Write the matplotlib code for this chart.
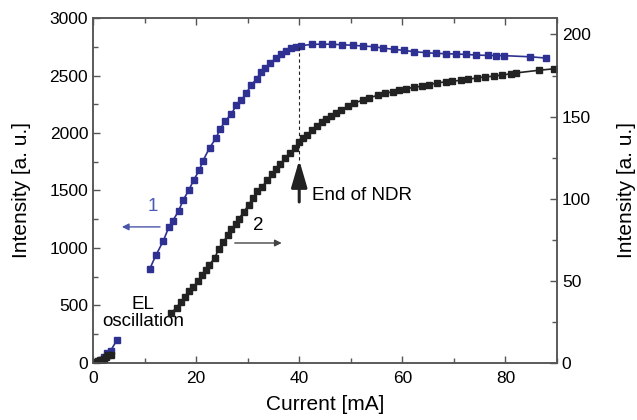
import matplotlib

matplotlib.use("Agg")
import matplotlib.pyplot as plt
from matplotlib.ticker import MultipleLocator

plt.rcParams["font.family"] = ["Liberation Sans", "DejaVu Sans"]

# curve 1 (left axis), low-current part and main part
blue_low_x = [1.0, 1.6, 2.2, 2.8, 3.4, 4.6]
blue_low_y = [5, 25, 55, 90, 105, 195]
blue_x = [11.0, 12.2, 13.6, 14.7, 15.5, 16.6, 17.5, 18.6, 19.5, 20.6, 21.3, 22.6,
          23.9, 24.6, 25.7, 26.8, 27.8, 28.8, 29.7, 30.7, 31.8, 32.6, 33.4, 34.4,
          35.4, 36.5, 37.5, 38.4, 39.4, 40.4, 42.5, 44.4, 46.3, 48.3, 50.5, 52.3,
          54.5, 56.3, 58.4, 60.4, 62.2, 64.5, 66.5, 68.5, 70.4, 72.3, 74.3, 76.6,
          78.2, 79.7, 84.8, 87.9]
blue_y = [817, 936, 1058, 1180, 1238, 1322, 1417, 1504, 1588, 1675, 1756, 1870,
          1959, 2031, 2107, 2162, 2243, 2287, 2345, 2417, 2474, 2533, 2562, 2605,
          2649, 2687, 2716, 2736, 2751, 2760, 2771, 2773, 2772, 2768, 2763, 2757,
          2751, 2738, 2728, 2718, 2708, 2699, 2693, 2690, 2687, 2684, 2678, 2675,
          2674, 2673, 2663, 2652]

# curve 2 (right axis)
black_low_x = [0.6, 1.0, 1.4, 1.8, 2.2, 2.6, 3.0, 3.4]
black_low_y = [0.5, 1.0, 1.5, 2.0, 2.5, 3.5, 4.5, 5.0]
black_x = [15.2, 16.2, 17.0, 17.8, 18.6, 19.4, 20.4, 21.2, 22.0, 22.5, 23.6, 24.4,
           25.2, 26.2, 26.8, 27.7, 28.3, 29.3, 30.2, 31.0, 31.9, 32.8, 33.8, 34.8,
           35.5, 36.3, 37.3, 38.2, 39.2, 40.0, 40.8, 41.6, 42.5, 43.4, 44.4, 45.2,
           46.2, 47.1, 48.1, 49.5, 50.7, 52.3, 53.6, 55.2, 56.7, 58.1, 59.4, 60.7,
           62.3, 63.9, 65.2, 66.8, 68.4, 69.7, 71.3, 72.8, 74.5, 76.1, 77.8, 79.4,
           81.0, 82.1, 86.5, 89.4]
black_y = [30.3, 33.7, 37.0, 40.4, 43.9, 46.1, 50.0, 53.7, 56.7, 59.6, 63.8, 69.5,
           73.4, 77.9, 81.7, 84.3, 87.8, 92.1, 96.3, 100.4, 104.5, 107.1, 111.4, 115.0,
           118.1, 121.1, 124.6, 127.6, 130.9, 134.3, 137.0, 139.0, 141.7, 144.1, 146.8, 148.6,
           150.6, 152.3, 154.3, 156.3, 158.4, 159.9, 161.4, 163.0, 164.2, 165.1, 165.9, 166.9,
           167.9, 168.5, 169.5, 170.5, 171.2, 171.5, 172.1, 172.7, 173.6, 174.2, 174.6, 175.4,
           176.0, 176.6, 178.2, 179.1]

ndr_current = 40
blue = "#2e3192"
dark = "#222222"
spine = "#555555"

fig = plt.figure(figsize=(6.37, 4.2), dpi=100)
ax = fig.add_axes([0.146, 0.136, 0.7284, 0.821])
ax2 = ax.twinx()

for a in (ax, ax2):
    for s in a.spines.values():
        s.set_color(spine)
        s.set_linewidth(1.1)

ax.plot(blue_low_x, blue_low_y, "-s", color=blue, ms=3.8, lw=1.2)
ax.plot(blue_x, blue_y, "-s", color=blue, ms=3.8, lw=1.2)
ax2.plot(black_low_x, black_low_y, "-s", color=dark, ms=3.8, lw=1.2)
ax2.plot(black_x, black_y, "-s", color=dark, ms=3.8, lw=1.2)

ax.set_xlim(0, 90)
ax.set_ylim(0, 3000)
ax2.set_ylim(0, 210)

ax.xaxis.set_major_locator(MultipleLocator(20))
ax.xaxis.set_minor_locator(MultipleLocator(10))
ax.yaxis.set_major_locator(MultipleLocator(500))
ax.yaxis.set_minor_locator(MultipleLocator(250))
ax2.yaxis.set_major_locator(MultipleLocator(50))
ax2.yaxis.set_minor_locator(MultipleLocator(25))

ax.tick_params(axis="x", which="both", direction="in", top=True, color=spine,
               labelsize=12.5, pad=6)
ax.tick_params(axis="y", which="both", direction="in", color=spine, labelsize=12.5)
ax2.tick_params(axis="y", which="both", direction="in", color=spine, labelsize=12.5)
for a in (ax, ax2):
    a.tick_params(which="major", length=5, width=1)
    a.tick_params(which="minor", length=3.5, width=1)

ax.set_xlabel("Current [mA]", fontsize=15, labelpad=6)
ax.set_ylabel("Intensity [a. u.]", fontsize=15, labelpad=13)
ax2.set_ylabel("Intensity [a. u.]", fontsize=15, labelpad=18.5)

# end of NDR marker
ax.plot([ndr_current, ndr_current], [1765, 2765], color=dark, lw=0.8,
        dashes=(3, 2.5))
ax.annotate("", xy=(ndr_current, 1765), xytext=(ndr_current, 1400),
            arrowprops=dict(arrowstyle="-|>,head_length=0.75,head_width=0.22",
                            mutation_scale=22, lw=2.2, color=dark,
                            shrinkA=0, shrinkB=0))
ax.text(42.4, 1452, "End of NDR", fontsize=13.5, ha="left", va="center")

# series arrows
ax.annotate("", xy=(5.6, 1183), xytext=(13.0, 1183),
            arrowprops=dict(arrowstyle="-|>", mutation_scale=10, lw=1,
                            color="#4a55a8", shrinkA=0, shrinkB=0))
ax.text(11.6, 1357, "1", fontsize=13.5, color="#4a5cb5", ha="center", va="center")
ax.annotate("", xy=(36.6, 1043), xytext=(27.5, 1043),
            arrowprops=dict(arrowstyle="-|>", mutation_scale=10, lw=1,
                            color="#444444", shrinkA=0, shrinkB=0))
ax.text(32.1, 1191, "2", fontsize=13.5, ha="center", va="center")

ax.text(9.7, 435, "EL\noscillation", fontsize=13.5, ha="center", va="center",
        linespacing=1.05)

fig.savefig("out.png", dpi=100)
